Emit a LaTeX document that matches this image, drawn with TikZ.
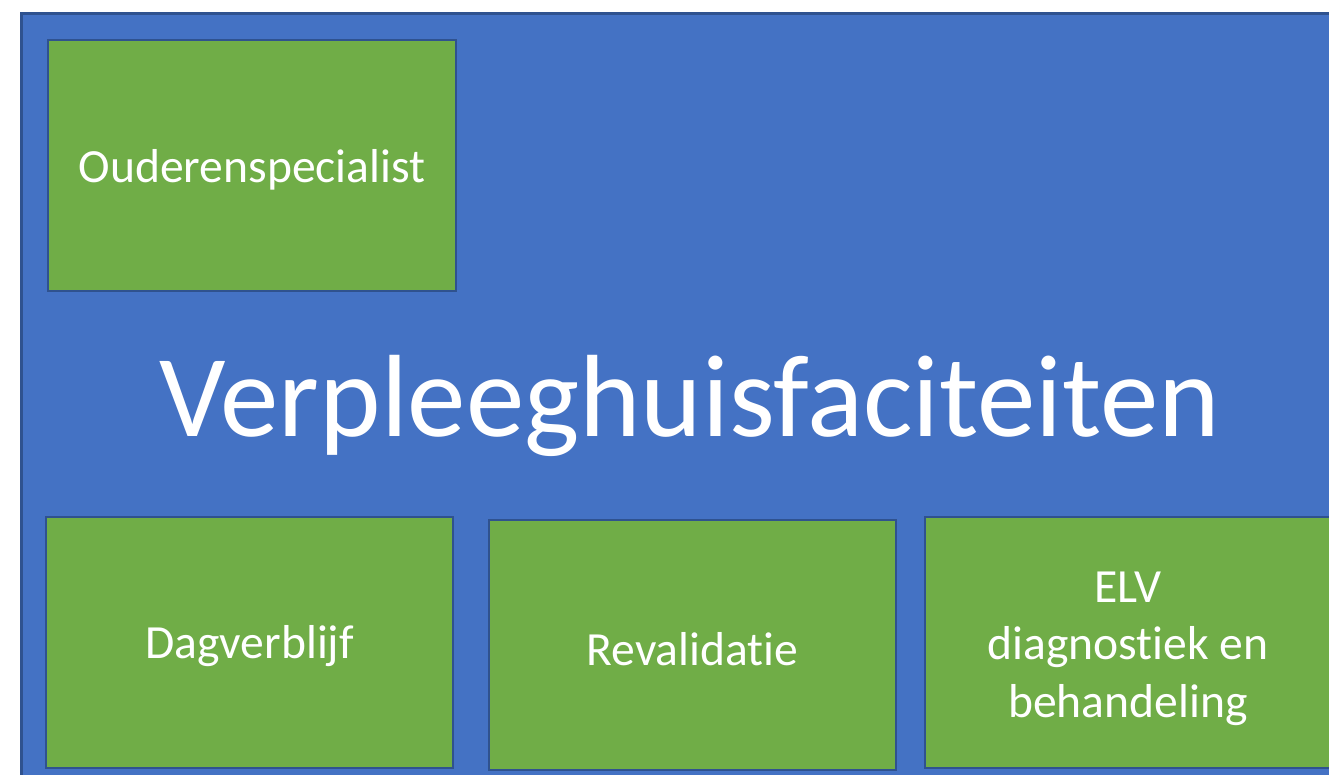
\documentclass[tikz,border=0pt]{standalone}
\usepackage{fontspec}
\setmainfont[RawFeature={-liga,-clig,-calt,-dlig}]{Carlito}
\definecolor{vhblue}{HTML}{4472C4}
\definecolor{vhline}{HTML}{2F528F}
\definecolor{vhgreen}{HTML}{70AD47}

\begin{document}
\begin{tikzpicture}[x=0.5pt,y=-0.5pt,
	unit/.style={draw=vhline, line width=1.35pt, fill=vhgreen, inner sep=0pt},
	unittext/.style={text=white, align=center, inner sep=0pt,
		font=\fontsize{23.8}{28.75}\selectfont},
	maintitle/.style={text=white, inner sep=0pt, font=\fontsize{58.5}{70}\selectfont}]

	\useasboundingbox (0,0) rectangle (1329,775);
	\clip (0,0) rectangle (1329,775);

	%background frame
	\draw[draw=vhline, line width=1.5pt, fill=vhblue] (21,14) rectangle (1345,790);

	%title
	\node[maintitle, anchor=base] (title) at (690,437) {Verpleeghuisfaciteiten};

	%top box
	\node[unit, minimum width=204pt, minimum height=125.5pt] (ouderen) at (252,165.5) {};
	\node[unittext] (ouderentext) at ([yshift=-2pt]ouderen.center) {Ouderenspecialist};

	%bottom row
	\node[unit, minimum width=203.5pt, minimum height=125.5pt] (dagverblijf) at (249.5,642.5) {};
	\node[unit, minimum width=203.5pt, minimum height=125pt] (revalidatie) at (692.5,645) {};
	\node[unit, minimum width=203pt, minimum height=125.5pt] (elv) at (1128,642.5) {};
	\node[unittext] (dagtext) at ([yshift=-2pt]dagverblijf.center) {Dagverblijf};
	\node[unittext] (revtext) at ([yshift=-2pt]revalidatie.center) {Revalidatie};
	\node[unittext] (elvtext) at ([yshift=-3pt]elv.center) {ELV\\diagnostiek en\\behandeling};

\end{tikzpicture}
\end{document}
